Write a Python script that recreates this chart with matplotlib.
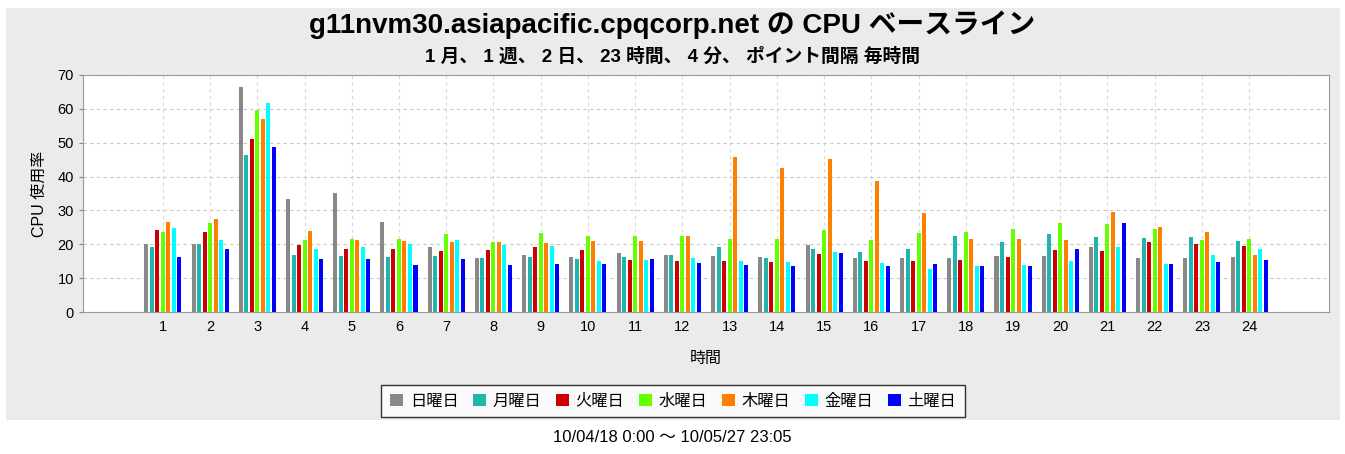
import matplotlib.pyplot as plt
import numpy as np

plt.rcParams['font.family'] = ['Liberation Sans', 'Noto Sans CJK JP']

hours = list(range(1, 25))
days = ['日曜日', '月曜日', '火曜日', '水曜日', '木曜日', '金曜日', '土曜日']
colors = ['#888888', '#1FB5AE', '#CC0000', '#66FF00', '#FF8000', '#00FFFF', '#0000FF']

sun = [20.0, 20.0, 66.6, 33.3, 35.1, 26.7, 19.1, 16.0, 16.9, 16.1, 17.4, 16.9,
       16.5, 16.2, 19.9, 16.0, 16.0, 16.0, 16.4, 16.6, 19.1, 16.0, 16.0, 16.3]
mon = [19.2, 20.2, 46.4, 16.9, 16.4, 16.3, 16.5, 16.0, 16.2, 15.7, 16.3, 16.7,
       19.1, 16.0, 18.5, 17.7, 18.7, 22.3, 20.8, 22.9, 22.2, 21.9, 22.2, 20.9]
tue = [24.1, 23.6, 51.1, 19.9, 18.6, 18.6, 18.1, 18.3, 19.1, 18.2, 15.5, 15.2,
       15.0, 14.8, 17.1, 15.2, 15.1, 15.4, 16.2, 18.3, 17.9, 20.8, 20.2, 19.6]
wed = [23.7, 26.4, 59.8, 21.4, 21.5, 21.5, 22.9, 20.7, 23.3, 22.4, 22.3, 22.3,
       21.5, 21.5, 24.1, 21.3, 23.4, 23.7, 24.6, 26.2, 25.9, 24.5, 21.4, 21.5]
thu = [26.5, 27.5, 57.1, 23.8, 21.4, 21.1, 20.8, 20.6, 20.5, 21.1, 20.9, 22.3,
       45.8, 42.5, 45.1, 38.6, 29.3, 21.7, 21.7, 21.3, 29.6, 25.0, 23.7, 16.7]
fri = [24.7, 21.4, 61.6, 18.6, 19.1, 20.2, 21.4, 19.7, 19.4, 15.2, 15.5, 16.0,
       15.1, 14.9, 17.7, 14.6, 12.7, 13.5, 14.0, 15.0, 19.1, 14.3, 16.7, 18.6]
sat = [16.3, 18.7, 48.8, 15.8, 15.7, 14.0, 15.7, 13.9, 14.2, 14.2, 15.6, 14.6,
       13.8, 13.6, 17.3, 13.6, 14.3, 13.7, 13.6, 18.7, 26.4, 14.3, 14.9, 15.3]
series = [sun, mon, tue, wed, thu, fri, sat]

fig = plt.figure(figsize=(13.45, 4.54), dpi=100, facecolor='white')
W, H = 1345, 454

# gray chart background (behind the axes)
bg = plt.Rectangle((6 / W, 1 - 420 / H), 1334 / W, 412 / H,
                   transform=fig.transFigure, facecolor='#EBEBEB',
                   edgecolor='none', zorder=-10)
fig.patches.append(bg)

ax = fig.add_axes([83 / W, 1 - 312 / H, (1329 - 83) / W, (312 - 75) / H])
ax.set_facecolor('white')

x = np.arange(1, 25)
pitch = 0.1165
width = 0.085
for i, (vals, c, d) in enumerate(zip(series, colors, days)):
    ax.bar(x + (i - 3) * pitch, vals, width, color=c, label=d, zorder=3)

ax.set_xlim(1 - 1.69, 24 + 1.69)
ax.set_ylim(0, 70)
ax.set_yticks(range(0, 71, 10))
ax.set_xticks(x)
ax.set_xticklabels([str(h) for h in hours])
ax.tick_params(axis='both', labelsize=10.5, color='#888888', length=3)
ax.tick_params(axis='x', length=0, pad=6)
ax.grid(True, axis='y', color='#C8C8C8', linestyle=(0, (3, 3)), linewidth=0.8, zorder=0)
ax.grid(True, axis='x', color='#D8D8D8', linestyle=(0, (3, 3)), linewidth=0.8, zorder=0)
for s in ax.spines.values():
    s.set_color('#999999')

ax.set_ylabel('CPU 使用率', fontsize=11.5, labelpad=8)
ax.set_xlabel('時間', fontsize=11.5, labelpad=12)

fig.text(0.5, 1 - 25 / H, 'g11nvm30.asiapacific.cpqcorp.net の CPU ベースライン',
         ha='center', va='center', fontsize=20, fontweight='bold')
fig.text(0.5, 1 - 57 / H, '1 月、 1 週、 2 日、 23 時間、 4 分、 ポイント間隔 毎時間',
         ha='center', va='center', fontsize=13.5, fontweight='bold')

leg = fig.legend(loc='center', bbox_to_anchor=(673 / W, 1 - 401 / H), ncol=7,
                 fontsize=11.7, frameon=True, fancybox=False, handlelength=0.8,
                 handleheight=0.8, handletextpad=0.4, columnspacing=0.9,
                 borderpad=0.55)
leg.get_frame().set_edgecolor('black')
leg.get_frame().set_linewidth(1.0)

fig.text(0.5, 1 - 438 / H, '10/04/18 0:00 〜 10/05/27 23:05',
         ha='center', va='center', fontsize=12)

fig.savefig('out.png', dpi=100, facecolor='white')
